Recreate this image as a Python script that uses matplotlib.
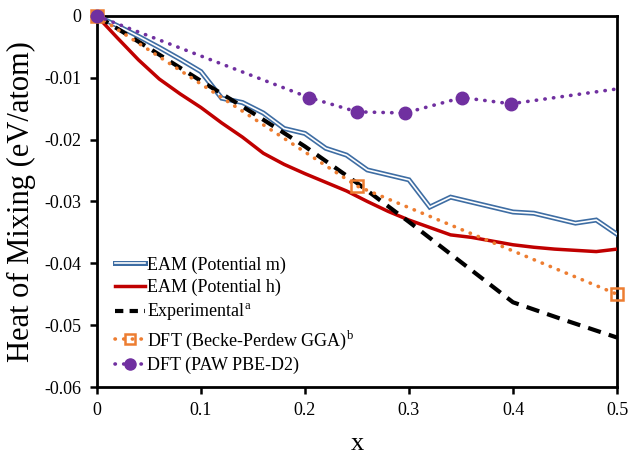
import matplotlib
matplotlib.use('Agg')
import matplotlib.pyplot as plt
from matplotlib.lines import Line2D

plt.rcParams['font.family'] = ['Liberation Serif', 'DejaVu Serif']
plt.rcParams['mathtext.fontset'] = 'custom'
plt.rcParams['mathtext.rm'] = 'Liberation Serif'

# EAM (Potential m)
x_m = [0, 0.02, 0.04, 0.06, 0.08, 0.10, 0.12, 0.14, 0.16, 0.18, 0.20, 0.22, 0.24,
       0.26, 0.28, 0.30, 0.32, 0.34, 0.36, 0.38, 0.40, 0.42, 0.44, 0.46, 0.48, 0.50]
y_m = [0, -0.0016, -0.0033, -0.0051, -0.0070, -0.0090, -0.0133, -0.0140, -0.0157,
       -0.0182, -0.0190, -0.0214, -0.0225, -0.0249, -0.0257, -0.0265, -0.0309,
       -0.0293, -0.0301, -0.0309, -0.0317, -0.0319, -0.0327, -0.0335, -0.0330, -0.0353]

# EAM (Potential h)
x_h = x_m
y_h = [0, -0.0036, -0.0071, -0.0102, -0.0126, -0.0148, -0.0173, -0.0196, -0.0222,
       -0.0240, -0.0255, -0.0269, -0.0283, -0.0300, -0.0316, -0.0330, -0.0342,
       -0.0354, -0.0358, -0.0364, -0.0370, -0.0374, -0.0377, -0.0379, -0.0381, -0.0377]

# Experimental
x_exp = [0, 0.05, 0.10, 0.15, 0.20, 0.25, 0.30, 0.35, 0.40, 0.45, 0.50]
y_exp = [0, -0.0052, -0.0105, -0.0157, -0.0211, -0.0270, -0.0333, -0.0398, -0.0463,
         -0.0492, -0.0520]

# DFT (Becke-Perdew GGA)
x_bp = [0, 0.25, 0.50]
y_bp = [0, -0.0275, -0.0450]

# DFT (PAW PBE-D2)
x_paw = [0, 0.204, 0.25, 0.296, 0.351, 0.398, 0.50]
y_paw = [0, -0.0132, -0.0155, -0.0157, -0.0132, -0.0142, -0.0118]

x_ticks = [0, 0.1, 0.2, 0.3, 0.4, 0.5]
x_labels = ['0', '0.1', '0.2', '0.3', '0.4', '0.5']
y_ticks = [0, -0.01, -0.02, -0.03, -0.04, -0.05, -0.06]
y_labels = ['0', '-0.01', '-0.02', '-0.03', '-0.04', '-0.05', '-0.06']

blue = '#3E6DA3'
red = '#C00000'
orange = '#ED7D31'
purple = '#7030A0'

fig = plt.figure(figsize=(6.29, 4.65), dpi=100)
ax = fig.add_axes([0.154, 0.1677, 0.827, 0.798])

ax.plot(x_m, y_m, color=blue, lw=3.6, zorder=3, solid_joinstyle='miter')
ax.plot(x_m, y_m, color='white', lw=1.2, zorder=3.1, solid_joinstyle='miter')
ax.plot(x_h, y_h, color=red, lw=2.5, zorder=3)
ax.plot(x_exp, y_exp, color='black', lw=3, dashes=(3.2, 2.0), zorder=4)
ax.plot(x_bp, y_bp, color=orange, lw=2.6, linestyle=(0, (0.1, 2.3)),
        dash_capstyle='round', marker='s', markersize=8, markerfacecolor='none',
        markeredgecolor=orange, markeredgewidth=1.8, zorder=5, clip_on=False)
ax.plot(x_paw, y_paw, color=purple, lw=2.6, linestyle=(0, (0.1, 2.3)),
        dash_capstyle='round', marker='o', markersize=9, markevery=[0, 1, 2, 3, 4, 5],
        zorder=6, clip_on=False)

ax.set_xlim(0, 0.5)
ax.set_ylim(-0.06, 0)
ax.set_xticks(x_ticks)
ax.set_xticklabels(x_labels)
ax.set_yticks(y_ticks)
ax.set_yticklabels(y_labels)
ax.tick_params(direction='out', length=5, width=1.8, labelsize=13, pad=6)
for s in ax.spines.values():
    s.set_linewidth(2)
ax.set_xlabel('x', fontsize=19, labelpad=10)
ax.set_ylabel('Heat of Mixing (eV/atom)', fontsize=22, labelpad=6)

h_m = (Line2D([], [], color=blue, lw=3.6), Line2D([], [], color='white', lw=1.2))
h_h = Line2D([], [], color=red, lw=2.5)
h_exp = Line2D([], [], color='black', lw=3, dashes=(2.0, 1.5))
h_bp = Line2D([], [], color=orange, lw=2.6, linestyle=(0, (0.1, 2.3)), dash_capstyle='round',
              marker='s', markersize=7, markerfacecolor='none', markeredgecolor=orange,
              markeredgewidth=1.8)
h_paw = Line2D([], [], color=purple, lw=2.6, linestyle=(0, (0.1, 2.3)), dash_capstyle='round',
               marker='o', markersize=8)
ax.legend([h_m, h_h, h_exp, h_bp, h_paw],
          ['EAM (Potential m)', 'EAM (Potential h)', 'Experimental$^\\mathrm{a}$',
           'DFT (Becke-Perdew GGA)$^\\mathrm{b}$', 'DFT (PAW PBE-D2)'],
          loc='lower left', bbox_to_anchor=(0.01, 0.0), frameon=False, fontsize=13,
          handlelength=1.7, handletextpad=0.1, labelspacing=0.3, borderaxespad=0.3)

fig.savefig('out.png', dpi=100)
